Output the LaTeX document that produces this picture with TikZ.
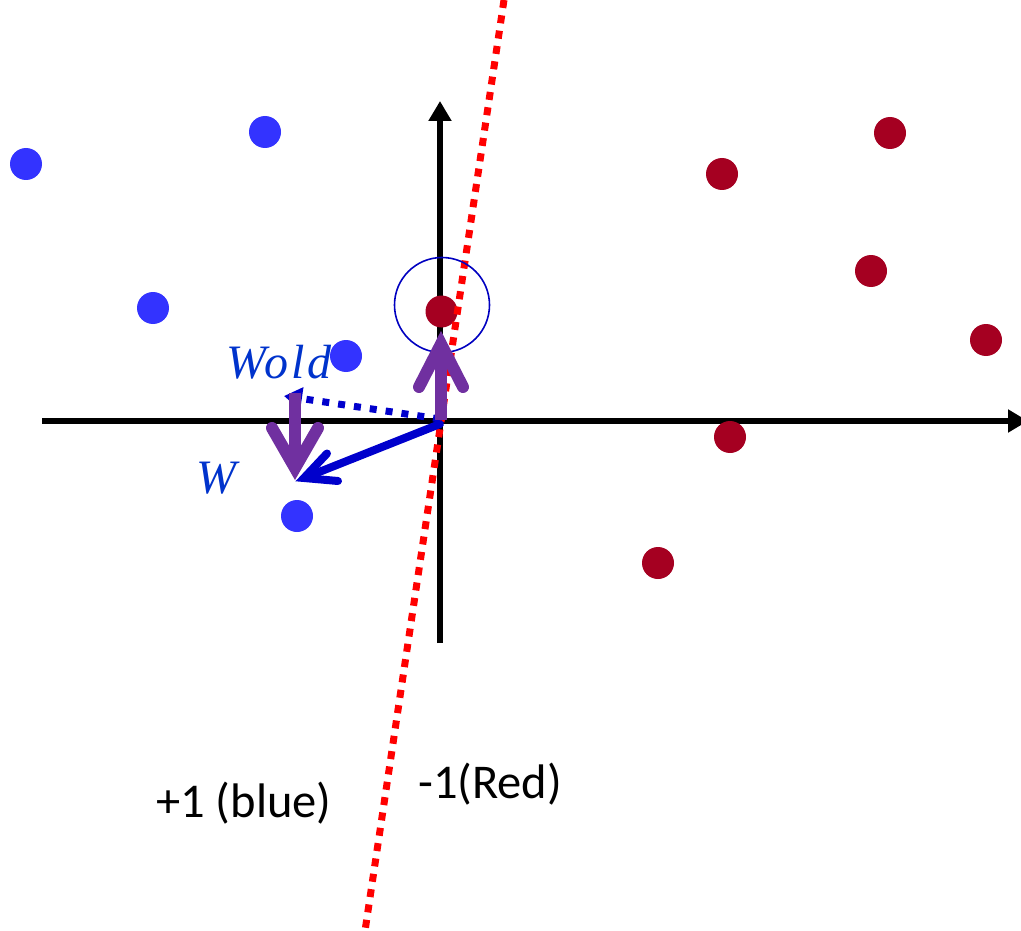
\documentclass[tikz,border=0pt]{standalone}
\usepackage{fontspec}
\setmainfont{Carlito}
\newfontfamily\timesfam{Liberation Serif}
\newfontfamily\timesspaced[LetterSpace=6]{Liberation Serif}
\usetikzlibrary{arrows.meta}
\definecolor{bluedot}{HTML}{3333FF}
\definecolor{reddot}{HTML}{A50021}
\definecolor{purp}{HTML}{7030A0}
\definecolor{warrow}{HTML}{0000CC}
\definecolor{wlabel}{HTML}{0033CC}
\definecolor{ringc}{HTML}{0000C0}
\begin{document}
\begin{tikzpicture}[x=1pt,y=-1pt,
  axis/.style={line width=6pt,-{Triangle[length=20pt,width=22pt]}},
  bdot/.style={circle,fill=bluedot,minimum size=32pt,inner sep=0pt},
  rdot/.style={circle,fill=reddot,minimum size=32pt,inner sep=0pt},
  sepline/.style={red,line width=7pt,dash pattern=on 8pt off 7.5pt},
  purparrow/.style={draw=purp,line width=12pt,line cap=round,line join=miter},
  purpshaft/.style={draw=purp,line width=12pt,line cap=butt},
  wsolid/.style={draw=warrow,line width=8pt,line cap=round,line join=miter},
  wdotted/.style={draw=warrow,line width=7pt,dash pattern=on 7pt off 9pt,-{Triangle[length=18pt,width=22pt]}},
  wtext/.style={text=wlabel,font=\timesspaced\itshape\fontsize{48}{56}\selectfont,inner sep=0pt,anchor=base west},
  classtext/.style={font=\fontsize{48.5}{56}\selectfont,inner sep=0pt,anchor=base west}
]
\useasboundingbox (0,0) rectangle (1021,931);
% axes
\coordinate (xl) at (42,421);
\coordinate (xr) at (1028,421);
\coordinate (yb) at (440,643);
\coordinate (yt) at (440,101);
\coordinate (o) at (441,421);
\draw[axis] (xl) -- (xr);
\draw[axis] (yb) -- (yt);
% blue points
\node[bdot] (b1) at (26,164) {};
\node[bdot] (b2) at (265,132) {};
\node[bdot] (b3) at (153,308) {};
\node[bdot] (b4) at (346,356) {};
\node[bdot] (b5) at (297,516) {};
% red points
\node[rdot] (r1) at (722,174) {};
\node[rdot] (r2) at (890,133) {};
\node[rdot] (r3) at (871,271) {};
\node[rdot] (r4) at (986,340) {};
\node[rdot] (r5) at (730,437) {};
\node[rdot] (r6) at (658,563) {};
\node[rdot] (rc) at (441.5,311.5) {};
% separating line
\coordinate (st) at (504,0);
\coordinate (sb) at (365,931);
\draw[sepline] (st) -- (sb);
% ring
\node[circle,draw=ringc,line width=1.6pt,minimum size=95pt,inner sep=0pt] (ring) at (442,305) {};
% Wold dotted arrow
\coordinate (wold) at (284,396);
\draw[wdotted] (440,419) -- (wold);
% purple arrows
\coordinate (pu) at (441,344);
\draw[purpshaft] (441,420) -- (pu);
\draw[purparrow] (419,387) -- (pu) -- (463,387);
\coordinate (pd) at (295,468);
\draw[purpshaft] (295,393) -- (pd);
\draw[purparrow] (272,428) -- (pd) -- (318,428);
% W solid arrow
\coordinate (wtip) at (304,478);
\draw[wsolid] (440,424) -- (wtip);
\draw[wsolid] (327,453.5) -- (wtip) -- (338,481);
% labels
\node[wtext] (lwold) at (226,378) {Wold};
\node[wtext] (lw) at (196,493) {W};
\node[classtext] (lblue) at (156,817) {+1 (blue)};
\node[classtext] (lred) at (418,798) {-1(Red)};
\end{tikzpicture}
\end{document}
